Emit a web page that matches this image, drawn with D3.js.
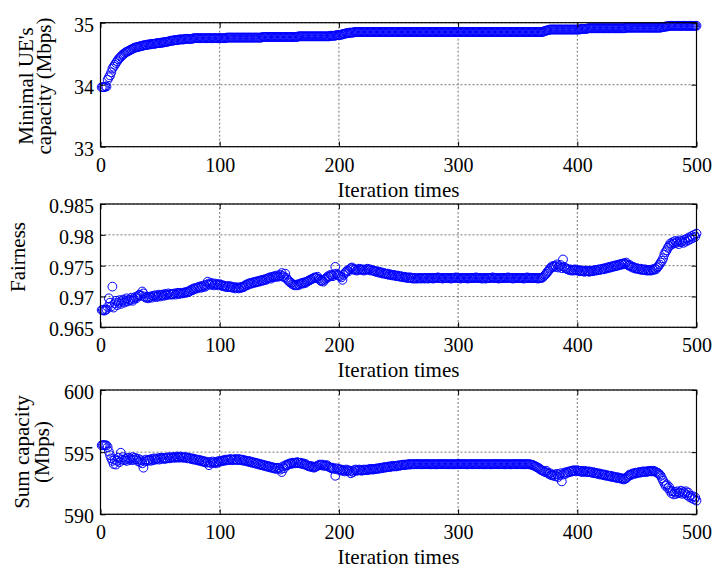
<!DOCTYPE html>
<html>
<head>
<meta charset="utf-8">
<script src="https://cdn.jsdelivr.net/npm/d3@7"></script>
<style>
body { margin: 0; background: #fff; }
</style>
</head>
<body>
<svg id="chart" width="714" height="568"></svg>
<script>
// tick values
const iterTicks = [0, 100, 200, 300, 400, 500];
const minCapTicks = [33, 34, 35];
const fairTicks = [0.965, 0.97, 0.975, 0.98, 0.985];
const sumCapTicks = [590, 595, 600];

// minimal UE's capacity (Mbps), iterations 1..500
const minCap = [
    33.96,33.96,33.96,33.97,33.97,34.08,34.12,34.15,34.20,34.26,
    34.29,34.32,34.35,34.38,34.41,34.43,34.45,34.47,34.49,34.50,
    34.52,34.53,34.54,34.55,34.56,34.57,34.58,34.59,34.60,34.60,
    34.61,34.61,34.62,34.62,34.63,34.63,34.64,34.64,34.64,34.65,
    34.65,34.65,34.66,34.66,34.66,34.66,34.67,34.67,34.67,34.67,
    34.68,34.68,34.68,34.69,34.69,34.69,34.70,34.70,34.71,34.71,
    34.71,34.72,34.72,34.72,34.72,34.73,34.73,34.73,34.73,34.73,
    34.74,34.74,34.74,34.74,34.74,34.74,34.74,34.75,34.75,34.75,
    34.75,34.75,34.75,34.75,34.75,34.75,34.75,34.75,34.75,34.75,
    34.75,34.75,34.75,34.75,34.75,34.75,34.75,34.75,34.75,34.75,
    34.75,34.75,34.75,34.75,34.75,34.76,34.76,34.76,34.76,34.76,
    34.76,34.76,34.76,34.76,34.76,34.76,34.76,34.76,34.76,34.76,
    34.76,34.76,34.76,34.76,34.76,34.76,34.76,34.76,34.76,34.76,
    34.76,34.76,34.76,34.76,34.76,34.77,34.77,34.77,34.77,34.77,
    34.77,34.77,34.77,34.77,34.77,34.77,34.77,34.77,34.77,34.77,
    34.77,34.77,34.77,34.77,34.77,34.77,34.77,34.77,34.77,34.77,
    34.77,34.77,34.77,34.77,34.77,34.78,34.78,34.78,34.78,34.78,
    34.78,34.78,34.78,34.78,34.78,34.78,34.78,34.78,34.78,34.78,
    34.78,34.78,34.78,34.78,34.78,34.78,34.78,34.78,34.78,34.78,
    34.78,34.78,34.79,34.79,34.79,34.79,34.79,34.80,34.80,34.80,
    34.80,34.81,34.81,34.82,34.82,34.83,34.83,34.83,34.84,34.84,
    34.84,34.84,34.85,34.85,34.85,34.85,34.85,34.85,34.85,34.85,
    34.85,34.85,34.85,34.85,34.85,34.85,34.85,34.85,34.85,34.85,
    34.85,34.85,34.85,34.85,34.85,34.85,34.85,34.85,34.85,34.85,
    34.85,34.85,34.85,34.85,34.85,34.85,34.85,34.85,34.85,34.85,
    34.85,34.85,34.85,34.85,34.85,34.85,34.85,34.85,34.85,34.85,
    34.85,34.85,34.85,34.85,34.85,34.85,34.85,34.85,34.85,34.85,
    34.85,34.85,34.85,34.85,34.85,34.85,34.85,34.85,34.85,34.85,
    34.85,34.85,34.85,34.85,34.85,34.85,34.85,34.85,34.85,34.85,
    34.85,34.85,34.85,34.85,34.85,34.85,34.85,34.85,34.85,34.85,
    34.85,34.85,34.85,34.85,34.85,34.85,34.85,34.85,34.85,34.85,
    34.85,34.85,34.85,34.85,34.85,34.85,34.85,34.85,34.85,34.85,
    34.85,34.85,34.85,34.85,34.85,34.85,34.85,34.85,34.85,34.85,
    34.85,34.85,34.85,34.85,34.85,34.85,34.85,34.85,34.85,34.85,
    34.85,34.85,34.85,34.85,34.85,34.85,34.85,34.85,34.85,34.85,
    34.85,34.85,34.85,34.85,34.85,34.85,34.85,34.85,34.85,34.85,
    34.85,34.85,34.85,34.85,34.85,34.85,34.85,34.85,34.85,34.85,
    34.85,34.86,34.87,34.87,34.88,34.88,34.89,34.89,34.89,34.89,
    34.89,34.89,34.89,34.89,34.89,34.89,34.89,34.89,34.89,34.89,
    34.89,34.89,34.89,34.89,34.89,34.89,34.89,34.89,34.89,34.89,
    34.89,34.89,34.90,34.90,34.90,34.90,34.90,34.90,34.91,34.91,
    34.91,34.91,34.91,34.91,34.91,34.91,34.91,34.91,34.91,34.91,
    34.91,34.91,34.91,34.91,34.91,34.91,34.91,34.91,34.91,34.91,
    34.91,34.91,34.91,34.91,34.91,34.91,34.91,34.91,34.91,34.91,
    34.92,34.92,34.92,34.92,34.92,34.92,34.92,34.92,34.92,34.92,
    34.92,34.92,34.92,34.92,34.92,34.92,34.92,34.92,34.92,34.92,
    34.92,34.92,34.92,34.92,34.92,34.92,34.92,34.92,34.92,34.92,
    34.93,34.93,34.93,34.94,34.94,34.94,34.95,34.95,34.95,34.95,
    34.95,34.95,34.95,34.95,34.95,34.95,34.95,34.95,34.95,34.95,
    34.95,34.95,34.95,34.95,34.95,34.95,34.95,34.95,34.95,34.95
];

// fairness, iterations 1..500
const fairness = [
    0.9678,0.9678,0.9677,0.9678,0.9679,0.9683,0.9697,0.9690,0.9684,0.9716,
    0.9682,0.9689,0.9693,0.9686,0.9690,0.9694,0.9688,0.9692,0.9695,0.9690,
    0.9693,0.9697,0.9692,0.9695,0.9694,0.9698,0.9693,0.9696,0.9699,0.9697,
    0.9700,0.9702,0.9703,0.9701,0.9708,0.9705,0.9700,0.9698,0.9699,0.9697,
    0.9699,0.9700,0.9698,0.9701,0.9700,0.9702,0.9699,0.9701,0.9703,0.9700,
    0.9702,0.9703,0.9701,0.9704,0.9702,0.9703,0.9705,0.9703,0.9704,0.9703,
    0.9704,0.9705,0.9703,0.9705,0.9706,0.9704,0.9705,0.9706,0.9705,0.9706,
    0.9707,0.9706,0.9708,0.9707,0.9709,0.9711,0.9710,0.9713,0.9712,0.9714,
    0.9713,0.9715,0.9716,0.9714,0.9717,0.9715,0.9718,0.9716,0.9719,0.9724,
    0.9721,0.9719,0.9722,0.9720,0.9718,0.9721,0.9719,0.9720,0.9718,0.9720,
    0.9719,0.9717,0.9718,0.9716,0.9717,0.9715,0.9716,0.9717,0.9715,0.9716,
    0.9714,0.9715,0.9713,0.9715,0.9714,0.9713,0.9715,0.9714,0.9716,0.9715,
    0.9717,0.9719,0.9718,0.9721,0.9720,0.9722,0.9721,0.9723,0.9722,0.9724,
    0.9723,0.9725,0.9724,0.9726,0.9725,0.9727,0.9726,0.9728,0.9727,0.9729,
    0.9730,0.9731,0.9729,0.9732,0.9731,0.9733,0.9732,0.9734,0.9732,0.9733,
    0.9735,0.9738,0.9733,0.9731,0.9737,0.9730,0.9727,0.9725,0.9723,0.9722,
    0.9720,0.9719,0.9718,0.9719,0.9718,0.9720,0.9719,0.9721,0.9722,0.9721,
    0.9723,0.9722,0.9724,0.9725,0.9726,0.9727,0.9728,0.9729,0.9730,0.9731,
    0.9730,0.9732,0.9729,0.9727,0.9725,0.9726,0.9724,0.9727,0.9729,0.9731,
    0.9733,0.9732,0.9735,0.9734,0.9733,0.9736,0.9748,0.9737,0.9735,0.9734,
    0.9733,0.9731,0.9727,0.9735,0.9738,0.9740,0.9742,0.9741,0.9744,0.9746,
    0.9747,0.9745,0.9743,0.9744,0.9742,0.9743,0.9745,0.9744,0.9743,0.9744,
    0.9742,0.9743,0.9744,0.9745,0.9743,0.9744,0.9742,0.9743,0.9742,0.9741,
    0.9740,0.9741,0.9739,0.9740,0.9738,0.9739,0.9737,0.9738,0.9737,0.9736,
    0.9737,0.9735,0.9736,0.9735,0.9734,0.9735,0.9734,0.9733,0.9734,0.9733,
    0.9732,0.9733,0.9732,0.9731,0.9732,0.9731,0.9730,0.9731,0.9730,0.9731,
    0.9730,0.9729,0.9730,0.9729,0.9730,0.9729,0.9730,0.9730,0.9729,0.9730,
    0.9730,0.9729,0.9730,0.9730,0.9729,0.9730,0.9730,0.9730,0.9729,0.9730,
    0.9730,0.9730,0.9731,0.9730,0.9730,0.9730,0.9729,0.9730,0.9730,0.9730,
    0.9730,0.9730,0.9730,0.9729,0.9730,0.9730,0.9730,0.9731,0.9730,0.9730,
    0.9730,0.9729,0.9730,0.9730,0.9730,0.9730,0.9730,0.9729,0.9730,0.9730,
    0.9730,0.9730,0.9730,0.9730,0.9731,0.9730,0.9730,0.9730,0.9730,0.9729,
    0.9730,0.9730,0.9729,0.9730,0.9730,0.9730,0.9730,0.9730,0.9731,0.9730,
    0.9730,0.9730,0.9730,0.9729,0.9730,0.9730,0.9730,0.9730,0.9730,0.9730,
    0.9730,0.9731,0.9730,0.9730,0.9730,0.9729,0.9730,0.9730,0.9730,0.9730,
    0.9730,0.9730,0.9730,0.9730,0.9729,0.9730,0.9730,0.9731,0.9730,0.9730,
    0.9730,0.9730,0.9730,0.9730,0.9730,0.9730,0.9729,0.9730,0.9730,0.9730,
    0.9731,0.9733,0.9735,0.9737,0.9740,0.9742,0.9745,0.9747,0.9749,0.9748,
    0.9750,0.9748,0.9752,0.9747,0.9749,0.9751,0.9746,0.9760,0.9748,0.9746,
    0.9745,0.9744,0.9743,0.9744,0.9742,0.9743,0.9742,0.9744,0.9743,0.9742,
    0.9743,0.9741,0.9742,0.9741,0.9742,0.9740,0.9741,0.9742,0.9741,0.9740,
    0.9741,0.9742,0.9741,0.9742,0.9743,0.9742,0.9743,0.9744,0.9743,0.9744,
    0.9745,0.9744,0.9746,0.9745,0.9747,0.9746,0.9748,0.9747,0.9749,0.9748,
    0.9750,0.9749,0.9751,0.9750,0.9752,0.9751,0.9753,0.9752,0.9754,0.9753,
    0.9755,0.9752,0.9750,0.9751,0.9749,0.9747,0.9748,0.9746,0.9745,0.9746,
    0.9745,0.9744,0.9745,0.9743,0.9744,0.9743,0.9744,0.9742,0.9743,0.9742,
    0.9743,0.9742,0.9744,0.9743,0.9745,0.9744,0.9747,0.9749,0.9752,0.9755,
    0.9758,0.9762,0.9768,0.9772,0.9775,0.9779,0.9782,0.9786,0.9784,0.9788,
    0.9786,0.9790,0.9787,0.9789,0.9785,0.9791,0.9788,0.9790,0.9787,0.9792,
    0.9789,0.9794,0.9791,0.9796,0.9793,0.9798,0.9795,0.9800,0.9797,0.9802
];

// sum capacity (Mbps), iterations 1..500
const sumCap = [
    595.55,595.56,595.55,595.56,595.54,595.40,595.05,594.75,594.50,594.30,
    594.05,594.40,594.00,594.30,594.55,594.20,594.95,594.40,594.60,594.35,
    594.45,594.30,594.55,594.40,594.50,594.35,594.60,594.40,594.55,594.45,
    594.30,594.45,594.20,594.35,594.10,593.75,594.25,594.40,594.30,594.35,
    594.40,594.30,594.45,594.35,594.50,594.40,594.45,594.50,594.40,594.55,
    594.45,594.55,594.50,594.45,594.55,594.50,594.60,594.50,594.55,594.60,
    594.55,594.60,594.55,594.65,594.60,594.55,594.65,594.60,594.55,594.60,
    594.55,594.60,594.50,594.55,594.50,594.45,594.50,594.40,594.45,594.40,
    594.35,594.40,594.30,594.35,594.25,594.30,594.20,594.25,594.15,594.20,
    593.95,594.20,594.10,594.25,594.15,594.20,594.10,594.25,594.20,594.30,
    594.25,594.30,594.35,594.30,594.40,594.35,594.40,594.35,594.45,594.40,
    594.35,594.40,594.45,594.40,594.35,594.45,594.40,594.35,594.40,594.30,
    594.35,594.30,594.25,594.30,594.20,594.25,594.15,594.20,594.10,594.15,
    594.05,594.10,594.00,594.05,593.95,594.00,593.90,593.95,593.85,593.90,
    593.80,593.85,593.75,593.80,593.70,593.75,593.65,593.70,593.75,593.70,
    593.60,593.40,593.85,593.70,593.90,594.00,593.95,594.05,594.10,594.05,
    594.15,594.10,594.15,594.10,594.20,594.15,594.10,594.15,594.05,594.10,
    594.00,594.05,593.95,593.90,593.85,593.90,593.80,593.85,593.75,593.80,
    593.85,593.90,593.95,594.00,593.95,594.00,593.90,593.95,593.90,593.95,
    593.85,593.80,593.75,593.70,593.75,593.65,593.10,593.70,593.60,593.65,
    593.55,593.60,593.50,593.55,593.45,593.60,593.50,593.55,593.45,593.30,
    593.50,593.40,593.55,593.60,593.50,593.55,593.60,593.55,593.50,593.55,
    593.60,593.55,593.60,593.55,593.60,593.65,593.60,593.65,593.60,593.65,
    593.65,593.70,593.65,593.70,593.75,593.70,593.75,593.80,593.75,593.80,
    593.80,593.85,593.80,593.85,593.90,593.85,593.90,593.85,593.90,593.95,
    593.90,593.95,593.95,594.00,593.95,594.00,594.00,594.00,594.05,594.00,
    594.03,594.03,594.02,594.03,594.03,594.04,594.03,594.03,594.02,594.03,
    594.03,594.03,594.03,594.04,594.03,594.03,594.03,594.02,594.03,594.03,
    594.03,594.02,594.03,594.03,594.03,594.03,594.04,594.03,594.03,594.03,
    594.03,594.03,594.03,594.03,594.02,594.03,594.03,594.03,594.03,594.04,
    594.03,594.03,594.04,594.03,594.03,594.03,594.03,594.02,594.03,594.03,
    594.03,594.03,594.03,594.03,594.03,594.03,594.03,594.03,594.04,594.03,
    594.02,594.03,594.03,594.03,594.03,594.03,594.02,594.03,594.03,594.03,
    594.03,594.04,594.03,594.03,594.03,594.03,594.03,594.03,594.03,594.02,
    594.03,594.03,594.03,594.02,594.03,594.03,594.03,594.04,594.03,594.03,
    594.03,594.03,594.03,594.03,594.03,594.02,594.03,594.03,594.03,594.03,
    594.00,593.98,593.95,593.90,593.85,593.80,593.75,593.70,593.60,593.55,
    593.50,593.45,593.40,593.50,593.35,593.25,593.30,593.15,593.20,593.10,
    593.20,593.05,593.25,593.00,593.15,593.30,592.65,593.20,593.35,593.25,
    593.40,593.35,593.45,593.40,593.50,593.45,593.55,593.50,593.45,593.55,
    593.50,593.45,593.50,593.40,593.45,593.50,593.40,593.45,593.40,593.45,
    593.40,593.35,593.40,593.30,593.35,593.30,593.25,593.30,593.20,593.25,
    593.20,593.15,593.20,593.10,593.15,593.10,593.05,593.10,593.00,593.05,
    593.00,592.95,593.00,592.90,592.95,592.90,592.85,592.90,592.80,592.85,
    592.90,593.00,593.10,593.20,593.15,593.25,593.30,593.25,593.35,593.30,
    593.35,593.40,593.35,593.40,593.45,593.40,593.45,593.40,593.45,593.50,
    593.45,593.50,593.45,593.50,593.45,593.40,593.35,593.30,593.20,593.10,
    592.90,592.70,592.50,592.30,592.40,592.10,592.20,591.90,591.70,591.85,
    591.60,591.80,591.65,591.85,591.70,591.75,591.90,591.65,591.80,591.70,
    591.85,591.55,591.75,591.40,591.50,591.30,591.45,591.20,591.35,591.10
];

const FONT = "'Liberation Serif', 'Times New Roman', serif";
const svg = d3.select("#chart");

const x = d3.scaleLinear().domain([0, 500]).range([100.5, 696.5]);

const panels = [
    {values: minCap, ticks: minCapTicks, domain: [33, 35], top: 22.7, bottom: 146.7,
     label: ["Minimal UE's", "capacity (Mbps)"], labelX: [33, 51], labelY: 86},
    {values: fairness, ticks: fairTicks, domain: [0.965, 0.985], top: 204, bottom: 327.3,
     label: ["Fairness"], labelX: [25], labelY: 257},
    {values: sumCap, ticks: sumCapTicks, domain: [590, 600], top: 390, bottom: 514.3,
     label: ["Sum capacity", "(Mbps)"], labelX: [29, 49], labelY: 452}
];

function styleAxis(g) {
    g.attr("font-family", FONT).attr("font-size", 20);
    g.select(".domain").remove();
    g.selectAll(".tick line").attr("stroke", "#000").attr("stroke-width", 1);
    g.selectAll(".tick text").attr("fill", "#000");
}

function drawPanel(p) {
    const y = d3.scaleLinear().domain(p.domain).range([p.bottom, p.top]);
    const g = svg.append("g");
    const x0 = x.range()[0], x1 = x.range()[1];

    // dotted grid
    g.append("g").selectAll("line")
        .data(iterTicks)
        .join("line")
        .attr("x1", d => x(d)).attr("x2", d => x(d))
        .attr("y1", p.top).attr("y2", p.bottom)
        .attr("stroke", "#555").attr("stroke-width", 0.8)
        .attr("stroke-dasharray", "2,2");
    g.append("g").selectAll("line")
        .data(p.ticks)
        .join("line")
        .attr("x1", x0).attr("x2", x1)
        .attr("y1", d => y(d)).attr("y2", d => y(d))
        .attr("stroke", "#555").attr("stroke-width", 0.8)
        .attr("stroke-dasharray", "2,2");

    // markers
    g.append("g").selectAll("circle")
        .data(p.values)
        .join("circle")
        .attr("cx", (d, i) => x(i + 1))
        .attr("cy", d => y(d))
        .attr("r", 4.4)
        .attr("fill", "none")
        .attr("stroke", "#0000ff")
        .attr("stroke-width", 1);

    // box
    g.append("rect")
        .attr("x", x0).attr("y", p.top)
        .attr("width", x1 - x0).attr("height", p.bottom - p.top)
        .attr("fill", "none").attr("stroke", "#000").attr("stroke-width", 1.2);

    // axes with inward ticks
    g.append("g")
        .attr("transform", `translate(0,${p.bottom})`)
        .call(d3.axisBottom(x).tickValues(iterTicks).tickSizeInner(-5).tickSizeOuter(0).tickPadding(11))
        .call(styleAxis);
    g.append("g")
        .attr("transform", `translate(0,${p.top})`)
        .call(d3.axisTop(x).tickValues(iterTicks).tickSizeInner(-5).tickSizeOuter(0).tickFormat(""))
        .call(styleAxis);
    g.append("g")
        .attr("transform", `translate(${x0},0)`)
        .call(d3.axisLeft(y).tickValues(p.ticks).tickSizeInner(-5).tickSizeOuter(0).tickPadding(6.5).tickFormat(d => String(d)))
        .call(styleAxis)
        .selectAll(".tick text").attr("dy", "0.42em");
    g.append("g")
        .attr("transform", `translate(${x1},0)`)
        .call(d3.axisRight(y).tickValues(p.ticks).tickSizeInner(-5).tickSizeOuter(0).tickFormat(""))
        .call(styleAxis);

    // labels
    p.label.forEach((t, i) => {
        g.append("text")
            .attr("transform", `translate(${p.labelX[i]},${p.labelY}) rotate(-90)`)
            .attr("text-anchor", "middle")
            .attr("font-family", FONT)
            .attr("font-size", 21)
            .text(t);
    });
    g.append("text")
        .attr("x", (x0 + x1) / 2)
        .attr("y", p.bottom + 50)
        .attr("text-anchor", "middle")
        .attr("font-family", FONT)
        .attr("font-size", 21)
        .text("Iteration times");
}

panels.forEach(drawPanel);
</script>
</body>
</html>
